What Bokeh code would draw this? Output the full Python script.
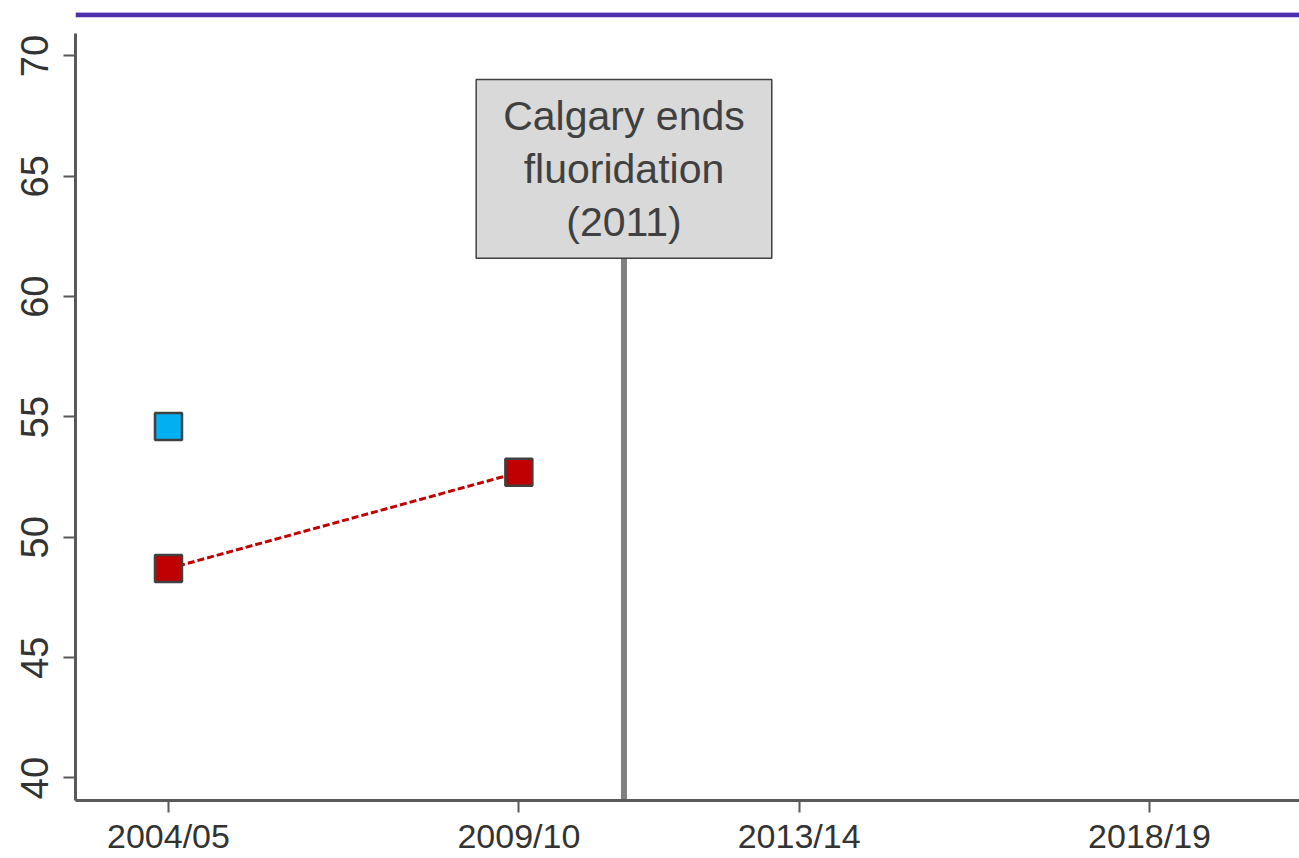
from bokeh.plotting import figure
from bokeh.models import Label, Range1d, FixedTicker, Span
from bokeh.embed import file_html
from bokeh.resources import INLINE

# ---- data ----
periods = ["2004/05", "2009/10", "2013/14", "2018/19"]
blue_values = [54.6, None, None, None]
red_values = [48.7, 52.7, None, None]
event_year = 2011
event_text = "Calgary ends\nfluoridation\n(2011)"
y_ticks = [40, 45, 50, 55, 60, 65, 70]

# x positions derived from period labels (mid-year of first year)
px = [int(s[:4]) + 0.5 for s in periods]

FONT = "Liberation Sans"
Y0, Y1 = 39.065, 71.807

p = figure(width=1299, height=858, output_backend="svg", toolbar_location=None,
           x_range=Range1d(2003.173, 2020.64), y_range=Range1d(Y0, Y1),
           min_border_left=75, min_border_right=0, min_border_top=12, min_border_bottom=58)
p.outline_line_color = None
p.grid.visible = False
p.background_fill_color = "white"
p.border_fill_color = "white"

# top purple rule
p.add_layout(Span(location=71.71, dimension="width", line_color="#4b2fb0", line_width=5))

# event line
p.segment(x0=[event_year], y0=[Y0], x1=[event_year], y1=[62.0], line_color="#808080", line_width=6)

# red dashed connection
rx = [x for x, v in zip(px, red_values) if v is not None]
ry = [v for v in red_values if v is not None]
p.line(rx, ry, line_color="#c00000", line_width=3, line_dash="7 3")
p.scatter(rx, ry, marker="square", size=27, fill_color="#c00000", line_color="#404040", line_width=2.5)

bx = [x for x, v in zip(px, blue_values) if v is not None]
by = [v for v in blue_values if v is not None]
p.scatter(bx, by, marker="square", size=27, fill_color="#00b0f0", line_color="#404040", line_width=2.5)

lab = Label(x=event_year, y=69.02, text=event_text, text_align="center", text_baseline="top",
            text_font=FONT, text_font_size="41px", text_color="#404040", text_line_height=1.16,
            background_fill_color="#d9d9d9", border_line_color="#404040", border_line_width=1.5,
            padding=(27, 13))
p.add_layout(lab)

# axes
p.xaxis.ticker = FixedTicker(ticks=px)
p.xaxis.major_label_overrides = {x: s for x, s in zip(px, periods)}
p.xaxis.minor_tick_line_color = None
p.xaxis.axis_line_color = "#595959"
p.xaxis.axis_line_width = 3
p.xaxis.major_tick_line_color = "#595959"
p.xaxis.major_tick_line_width = 2
p.xaxis.major_tick_out = 12
p.xaxis.major_tick_in = 0
p.xaxis.major_label_standoff = 4
p.xaxis.major_label_text_font = FONT
p.xaxis.major_label_text_font_size = "34px"
p.xaxis.major_label_text_color = "#333333"

p.yaxis.ticker = FixedTicker(ticks=y_ticks)
p.yaxis.bounds = (Y0, 70.93)
p.yaxis.minor_tick_line_color = None
p.yaxis.axis_line_color = "#595959"
p.yaxis.axis_line_width = 3
p.yaxis.major_tick_line_color = "#595959"
p.yaxis.major_tick_line_width = 2
p.yaxis.major_tick_out = 12
p.yaxis.major_tick_in = 0
p.yaxis.major_label_standoff = 15
p.yaxis.major_label_orientation = "vertical"
p.yaxis.major_label_text_font = FONT
p.yaxis.major_label_text_font_size = "38px"
p.yaxis.major_label_text_color = "#333333"

open("out.html", "w").write(file_html(p, INLINE))
